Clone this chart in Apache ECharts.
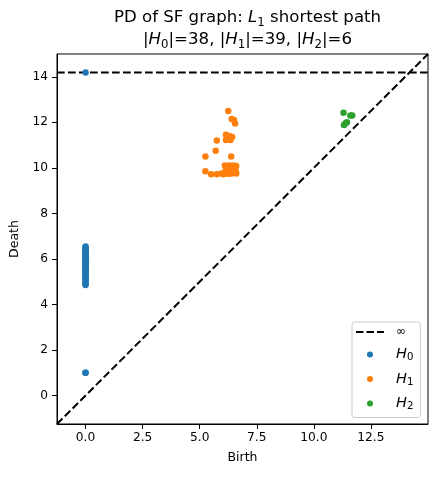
<!DOCTYPE html>
<html><head><meta charset="utf-8">
<script src="https://cdn.jsdelivr.net/npm/echarts@6/dist/echarts.min.js"></script>
<style>html,body{margin:0;padding:0;background:#fff}#c{width:436px;height:477px}</style>
</head><body><div id="c"></div>
<script>
// ---- data ----
const h0Death = [Infinity, 1.0, 1.0, 4.85, 4.9, 4.95, 5.0, 5.1, 5.15, 5.2, 5.25, 5.3, 5.35, 5.45, 5.5, 5.55, 5.6, 5.65, 5.7, 5.75, 5.78, 5.8, 5.85, 5.9, 5.95, 6.0, 6.02, 6.05, 6.1, 6.15, 6.2, 6.25, 6.3, 6.35, 6.4, 6.45, 6.5, 6.55];
const h0Birth = h0Death.map(() => 0);
const h1Birth = [6.25, 6.4, 6.5, 6.55, 5.75, 6.15, 6.25, 6.35, 6.15, 6.42, 6.3, 5.7, 5.25, 6.38,
                 6.1, 6.2, 6.3, 6.4, 6.5, 6.6,
                 5.25, 5.5, 5.75, 5.95, 6.1, 6.2, 6.3, 6.4, 6.5, 6.6, 6.15, 6.35, 6.45, 6.55, 6.25, 6.05, 6.58, 6.28, 6.48];
const h1Death = [12.5, 12.15, 12.1, 11.95, 11.2, 11.45, 11.3, 11.22, 11.22, 11.36, 11.4, 10.75, 10.5, 10.5,
                 10.1, 10.08, 10.1, 10.08, 10.1, 10.08,
                 9.85, 9.72, 9.72, 9.75, 9.8, 9.75, 9.8, 9.75, 9.78, 9.75, 9.9, 9.92, 9.88, 9.9, 9.95, 9.72, 9.85, 9.74, 9.96];
const h2Birth = [11.3, 11.6, 11.68, 11.4, 11.32, 11.45];
const h2Death = [12.42, 12.3, 12.3, 11.97, 11.88, 12.0];
const xTicks = [0, 2.5, 5, 7.5, 10, 12.5];
const yTicks = [0, 2, 4, 6, 8, 10, 12, 14];
const legendNames = ['∞', 'H0', 'H1', 'H2'];
const colors = ['#1f77b4', '#ff7f0e', '#2ca02c'];

// ---- limits (persim style) ----
const finite = [].concat(h0Birth, h0Death, h1Birth, h1Death, h2Birth, h2Death).filter(v => isFinite(v));
const axMin = Math.min(...finite), axMax = Math.max(...finite);
const buffer = (axMax - axMin) / 5;
const xDown = axMin - buffer / 2, xUp = axMax + buffer;
const bInf = xDown + (xUp - xDown) * 0.95;

const pts = (b, d) => b.map((v, i) => [v, isFinite(d[i]) ? d[i] : bInf]);

const FONT = 'DejaVu Sans';
const chart = echarts.init(document.getElementById('c'));
const dashed = { color: '#000', width: 2, type: [7.7, 3.3] };
const dashIcon = 'path://M0 0H7.5V2H0Z M10.5 0H18V2H10.5Z M21 0H28V2H21Z';
chart.setOption({
  animation: false,
  title: {
    text: 'PD of SF graph: {it|L}{sub|1} shortest path\n|{it|H}{sub|0}|=' + h0Birth.length +
          ', |{it|H}{sub|1}|=' + h1Birth.length + ', |{it|H}{sub|2}|=' + h2Birth.length,
    left: 242.5, top: 2, textAlign: 'center',
    textStyle: {
      fontFamily: FONT, fontSize: 16.6, fontWeight: 'normal', color: '#000', lineHeight: 22,
      rich: {
        it: { fontFamily: FONT, fontSize: 16.6, fontStyle: 'italic', color: '#000', lineHeight: 22 },
        sub: { fontFamily: FONT, fontSize: 11.8, color: '#000', lineHeight: 13, verticalAlign: 'bottom' }
      }
    }
  },
  grid: { left: 57, right: 8, top: 54, bottom: 53, show: true, borderColor: '#000', borderWidth: 1, containLabel: false },
  legend: {
    data: [{ name: '∞', icon: dashIcon }, 'H0', 'H1', 'H2'], orient: 'vertical', left: 352, top: 322,
    padding: [4, 7, 6, 4], itemGap: 9, itemWidth: 28, itemHeight: 6,
    backgroundColor: 'rgba(255,255,255,0.8)', borderColor: '#cccccc', borderWidth: 1, borderRadius: 3,
    formatter: n => n === '∞' ? '{n|∞}' : '{i|H}{s|' + n.slice(1) + '}',
    textStyle: {
      fontFamily: FONT, fontSize: 13, color: '#000', padding: [0, 0, 0, 7],
      rich: {
        n: { fontFamily: FONT, fontSize: 12, color: '#000', lineHeight: 16 },
        i: { fontFamily: FONT, fontSize: 14.5, fontStyle: 'italic', color: '#000', lineHeight: 16 },
        s: { fontFamily: FONT, fontSize: 10.2, color: '#000', lineHeight: 10, verticalAlign: 'bottom' }
      }
    }
  },
  xAxis: {
    type: 'value', min: xDown, max: xUp,
    name: 'Birth', nameLocation: 'middle', nameGap: 27,
    nameTextStyle: { fontFamily: FONT, fontSize: 12.5, color: '#000' },
    axisLine: { onZero: false, lineStyle: { color: '#000', width: 1 } },
    axisTick: { show: true, length: 5, inside: false, customValues: xTicks, lineStyle: { color: '#000' } },
    axisLabel: { customValues: xTicks, formatter: v => v.toFixed(1), fontFamily: FONT, fontSize: 12.2, color: '#000', margin: 8 },
    splitLine: { show: false }
  },
  yAxis: {
    type: 'value', min: xDown, max: xUp,
    name: 'Death', nameLocation: 'middle', nameGap: 34, nameRotate: 90,
    nameTextStyle: { fontFamily: FONT, fontSize: 12.5, color: '#000' },
    axisLine: { onZero: false, lineStyle: { color: '#000', width: 1 } },
    axisTick: { show: true, length: 5, inside: false, customValues: yTicks, lineStyle: { color: '#000' } },
    axisLabel: { customValues: yTicks, fontFamily: FONT, fontSize: 12.2, color: '#000', margin: 9 },
    splitLine: { show: false }
  },
  series: [
    { type: 'line', name: 'diag', data: [[xDown, xDown], [xUp, xUp]], symbol: 'none', lineStyle: dashed, z: 1, silent: true },
    { type: 'line', name: '∞', data: [[xDown, bInf], [xUp, bInf]], symbol: 'none', lineStyle: dashed, itemStyle: { color: '#000' }, z: 1 },
    { type: 'scatter', name: 'H0', data: pts(h0Birth, h0Death), symbolSize: 6.5, itemStyle: { color: colors[0], opacity: 1 }, z: 3 },
    { type: 'scatter', name: 'H1', data: pts(h1Birth, h1Death), symbolSize: 6.5, itemStyle: { color: colors[1], opacity: 1 }, z: 3 },
    { type: 'scatter', name: 'H2', data: pts(h2Birth, h2Death), symbolSize: 6.5, itemStyle: { color: colors[2], opacity: 1 }, z: 3 }
  ]
});
</script></body></html>
